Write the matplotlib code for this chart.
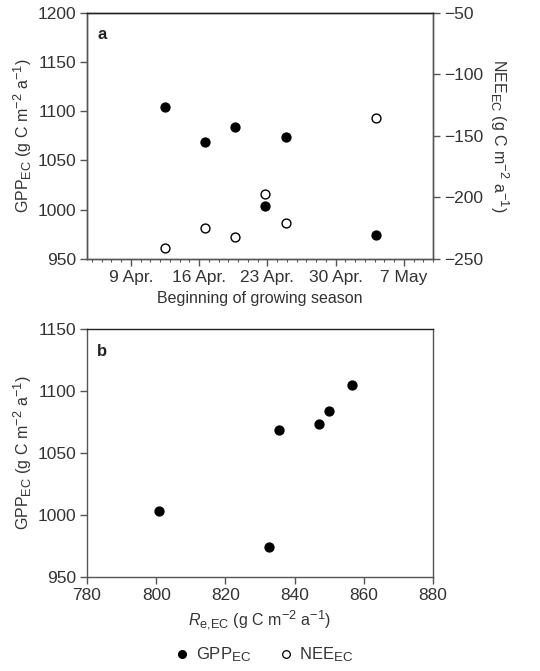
import matplotlib
matplotlib.use("Agg")
import matplotlib.pyplot as plt
from matplotlib.ticker import MultipleLocator, FixedLocator
from matplotlib.lines import Line2D

try:
    import matplotlib._mathtext as _mt
    _mt.SHRINK_FACTOR = 0.8
except Exception:
    pass

plt.rcParams['font.family'] = ['Liberation Sans', 'DejaVu Sans']
plt.rcParams['mathtext.fontset'] = 'custom'
plt.rcParams['mathtext.rm'] = 'Liberation Sans'
plt.rcParams['mathtext.it'] = 'Liberation Sans:italic'
plt.rcParams['mathtext.bf'] = 'Liberation Sans:bold'

# Data (days counted from 1 April)
season_start_day = [12.5, 16.6, 19.7, 22.8, 24.9, 34.2]
gpp_ec = [1104.6, 1068.7, 1084.3, 1003.4, 1073.5, 974.2]
nee_ec = [-240.8, -224.6, -231.9, -197.2, -221.0, -135.8]
re_ec = [856.6, 835.5, 849.9, 800.7, 847.0, 832.6]

date_ticks = [9, 16, 23, 30, 37]
date_labels = ['9 Apr.', '16 Apr.', '23 Apr.', '30 Apr.', '7 May']

text_c = '#333333'
spine_c = '#555555'

fig = plt.figure(figsize=(5.4, 6.71), dpi=100)
W, H = 540, 671

def rect(l, t, r, b):
    return [l / W, 1 - b / H, (r - l) / W, (b - t) / H]

ms = 6.4

# Panel a
ax1 = fig.add_axes(rect(87, 12.7, 433, 259))
ax1.plot(season_start_day, gpp_ec, 'o', color='black', ms=ms, mec='black')
ax1.set_xlim(4.5, 40)
ax1.set_ylim(950, 1200)
ax1.xaxis.set_major_locator(FixedLocator(date_ticks))
ax1.set_xticklabels(date_labels)
ax1.xaxis.set_minor_locator(MultipleLocator(1))
ax1.yaxis.set_major_locator(MultipleLocator(50))
ax1.set_xlabel('Beginning of growing season', fontsize=11.5, color=text_c, labelpad=4)
ax1.set_ylabel(r'GPP$_{\rm EC}$ (g C m$^{-2}$ a$^{-1}$)', fontsize=11.5, color=text_c, labelpad=2)
ax1.text(0.03, 0.94, 'a', transform=ax1.transAxes, fontsize=12, fontweight='bold',
         va='top', ha='left', color='#222222')

ax2 = ax1.twinx()
ax2.plot(season_start_day, nee_ec, 'o', color='black', mfc='white', ms=ms, mew=1.0)
ax2.set_ylim(-250, -50)
ax2.yaxis.set_major_locator(MultipleLocator(50))
ax2.set_ylabel(r'NEE$_{\rm EC}$ (g C m$^{-2}$ a$^{-1}$)', fontsize=11.5, color=text_c,
               rotation=270, labelpad=20)

# Panel b
ax3 = fig.add_axes(rect(87, 329.3, 433, 576.7))
ax3.plot(re_ec, gpp_ec, 'o', color='black', ms=ms)
ax3.set_xlim(780, 880)
ax3.set_ylim(950, 1150)
ax3.xaxis.set_major_locator(MultipleLocator(20))
ax3.yaxis.set_major_locator(MultipleLocator(50))
ax3.set_xlabel(r'$R_{\rm e{,}EC}$ (g C m$^{-2}$ a$^{-1}$)', fontsize=11.5, color=text_c, labelpad=4)
ax3.set_ylabel(r'GPP$_{\rm EC}$ (g C m$^{-2}$ a$^{-1}$)', fontsize=11.5, color=text_c, labelpad=2)
ax3.text(0.03, 0.94, 'b', transform=ax3.transAxes, fontsize=12, fontweight='bold',
         va='top', ha='left', color='#222222')

for ax in (ax1, ax2, ax3):
    for s in ax.spines.values():
        s.set_color(spine_c)
        s.set_linewidth(1.0)
    ax.spines['top'].set_color('#222222')
    ax.tick_params(which='major', direction='out', length=5, width=1.0, color=spine_c,
                   labelsize=12.5, labelcolor=text_c, pad=3)
    ax.tick_params(which='minor', direction='out', length=2, width=0.8, color=spine_c)

ax1.tick_params(axis='y', right=False)
ax3.tick_params(right=False, top=False)

handles = [
    Line2D([], [], ls='none', marker='o', color='black', ms=5.5, label=r'GPP$_{\rm EC}$'),
    Line2D([], [], ls='none', marker='o', color='black', mfc='white', ms=5.5, mew=0.9,
           label=r'NEE$_{\rm EC}$'),
]
leg = fig.legend(handles=handles, loc='center', bbox_to_anchor=(0.487, 1 - 655 / H), ncol=2,
                 frameon=False, fontsize=12, handletextpad=0.2, columnspacing=1.5,
                 handlelength=1.2)
for t in leg.get_texts():
    t.set_color(text_c)

fig.savefig('out.png', dpi=100)
